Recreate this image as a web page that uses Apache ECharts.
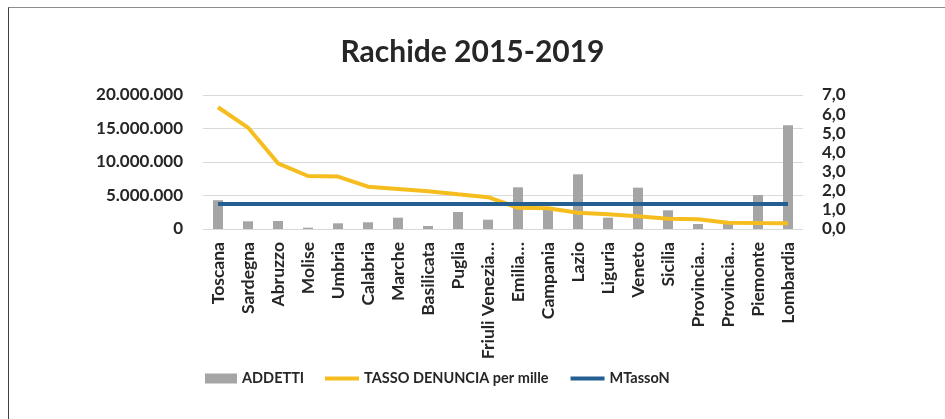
<!DOCTYPE html>
<html>
<head>
<meta charset="utf-8">
<script src="https://cdn.jsdelivr.net/npm/echarts@6/dist/echarts.min.js"></script>
<style>
html,body{margin:0;padding:0;background:#fff;}
#c{width:945px;height:419px;position:absolute;left:0;top:0;}
#frame{position:absolute;left:8px;top:7px;width:960px;height:430px;border-top:1px solid #8c8c8c;border-left:1px solid #404040;pointer-events:none;}
</style>
</head>
<body>
<div id="c"></div>
<div id="frame"></div>
<script>
const categories = ["Toscana","Sardegna","Abruzzo","Molise","Umbria","Calabria","Marche","Basilicata","Puglia","Friuli Venezia…","Emilia…","Campania","Lazio","Liguria","Veneto","Sicilia","Provincia…","Provincia…","Piemonte","Lombardia"];
const addetti = [4300000,1150000,1190000,200000,850000,1000000,1690000,450000,2540000,1390000,6220000,3000000,8160000,1690000,6170000,2790000,750000,800000,5070000,15500000];
const tasso = [6.36,5.30,3.43,2.77,2.74,2.21,2.09,1.97,1.81,1.66,1.11,1.08,0.85,0.77,0.66,0.54,0.51,0.33,0.31,0.30];
const mtasso = [1.31,1.31,1.31,1.31,1.31,1.31,1.31,1.31,1.31,1.31,1.31,1.31,1.31,1.31,1.31,1.31,1.31,1.31,1.31,1.31];

const FONT = "Lato";
const TXT = '#262626';
const chart = echarts.init(document.getElementById('c'), null, {renderer:'canvas'});
const legendText = {fontFamily:FONT,fontWeight:'bold',fontSize:14.5,color:TXT};
chart.setOption({
  animation:false,
  backgroundColor:'#fff',
  title:{text:'Rachide 2015-2019',left:'center',top:32,textStyle:{fontFamily:FONT,fontWeight:'bold',fontSize:30,color:TXT}},
  legend:[
    {top:366,left:200,itemWidth:32,itemHeight:10,textStyle:legendText,
     data:[{name:'ADDETTI',icon:'rect'}]},
    {top:366,left:320,itemWidth:34,itemHeight:4,itemGap:22,textStyle:legendText,
     data:[{name:'TASSO DENUNCIA per mille',icon:'rect'},{name:'MTassoN',icon:'rect'}]}
  ],
  grid:{left:203,right:142,top:95,height:134,containLabel:false},
  xAxis:{
    type:'category',data:categories,
    axisLine:{show:false},axisTick:{show:false},
    axisLabel:{rotate:90,interval:0,margin:13,fontFamily:FONT,fontWeight:'bold',fontSize:17.5,color:TXT}
  },
  yAxis:[
    {type:'value',min:0,max:20000000,interval:5000000,
     axisLine:{show:false},axisTick:{show:false},
     splitLine:{lineStyle:{color:'#d9d9d9',width:1}},
     axisLabel:{margin:20,fontFamily:FONT,fontWeight:'bold',fontSize:17,color:TXT,
       formatter:v=>String(Math.round(v)).replace(/\B(?=(\d{3})+(?!\d))/g,'.')}},
    {type:'value',min:0,max:7,interval:1,position:'right',
     axisLine:{show:false},axisTick:{show:false},splitLine:{show:false},
     axisLabel:{margin:19,fontFamily:FONT,fontWeight:'bold',fontSize:17,color:TXT,
       formatter:v=>v.toFixed(1).replace('.',',')}}
  ],
  series:[
    {name:'ADDETTI',type:'bar',data:addetti,yAxisIndex:0,barWidth:10,itemStyle:{color:'#a5a5a5'}},
    {name:'TASSO DENUNCIA per mille',type:'line',data:tasso,yAxisIndex:1,symbol:'none',lineStyle:{color:'#f6bd1e',width:4},itemStyle:{color:'#f6bd1e'}},
    {name:'MTassoN',type:'line',data:mtasso,yAxisIndex:1,symbol:'none',lineStyle:{color:'#255e91',width:4},itemStyle:{color:'#255e91'}}
  ]
});
</script>
</body>
</html>
